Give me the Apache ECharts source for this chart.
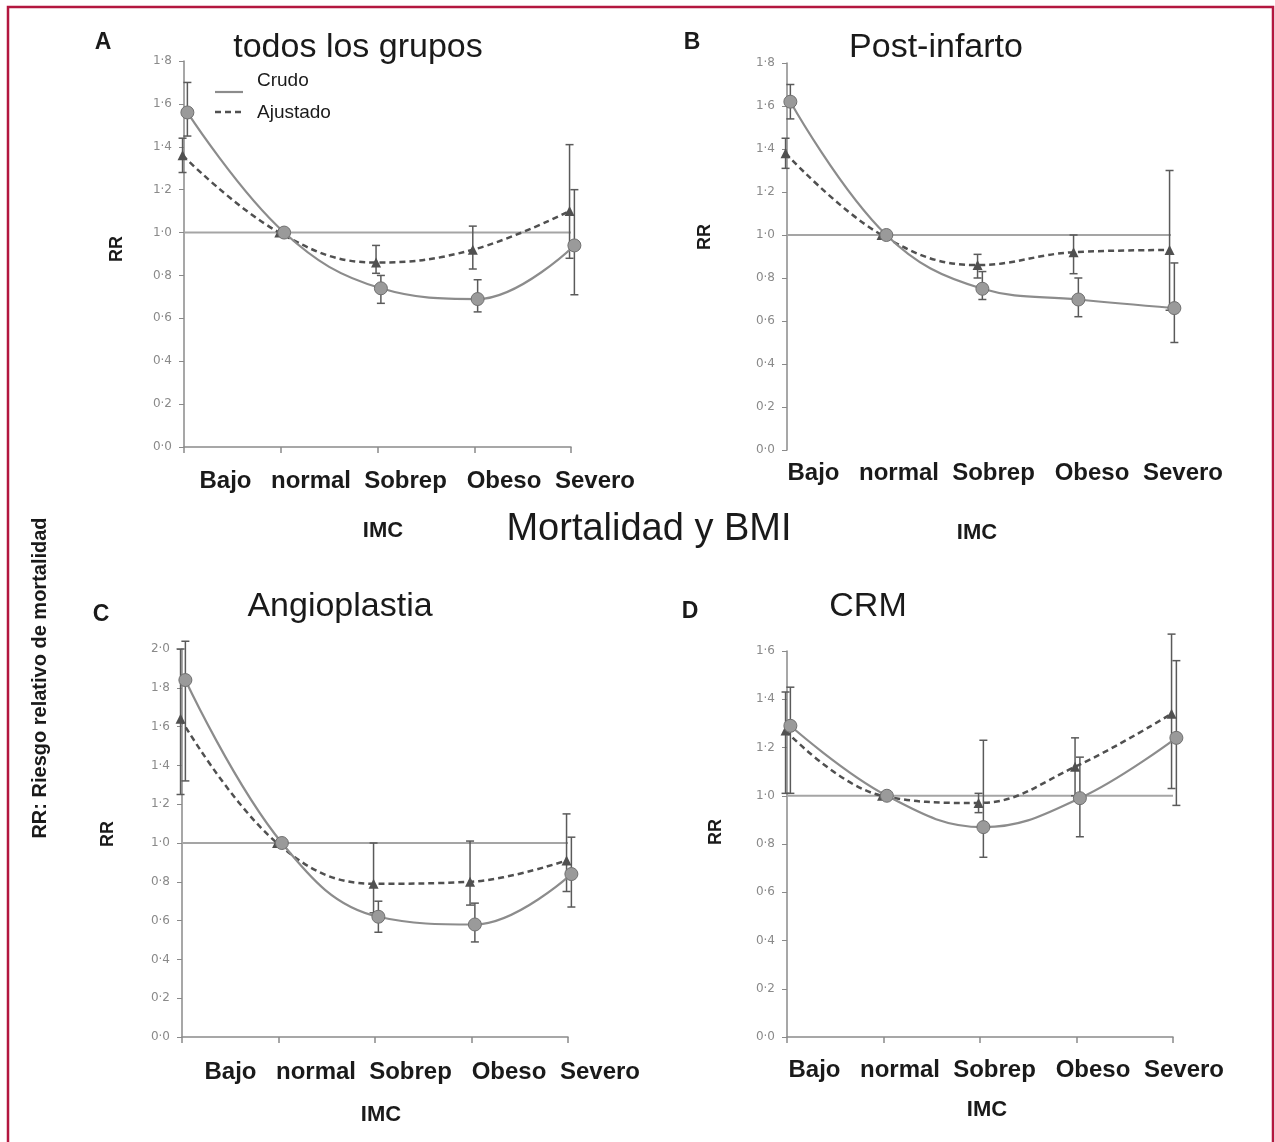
<!DOCTYPE html>
<html>
<head>
<meta charset="utf-8">
<script src="https://cdn.jsdelivr.net/npm/echarts@6/dist/echarts.min.js"></script>
<style>
html,body{margin:0;padding:0;background:#fff;}
#chart{width:1275px;height:1142px;}
</style>
</head>
<body>
<div id="chart"></div>
<script>
// ---------- DATA ----------
const categories = ['Bajo', 'normal', 'Sobrep', 'Obeso', 'Severo'];
const seriesNames = ['Crudo', 'Ajustado'];
const panelTitles = ['todos los grupos', 'Post-infarto', 'Angioplastia', 'CRM'];
const panelLetters = ['A', 'B', 'C', 'D'];
const mainTitle = 'Mortalidad y BMI';
const yAxisName = 'RR';
const xAxisName = 'IMC';
const sideLabel = 'RR: Riesgo relativo de mortalidad';
const yMax = [1.8, 1.8, 2.0, 1.6];

// Panel A: todos los grupos
const crudoA    = [1.56, 1.00, 0.74, 0.69, 0.94];
const crudoA_lo = [1.45, null, 0.67, 0.63, 0.71];
const crudoA_hi = [1.70, null, 0.80, 0.78, 1.20];
const ajustA    = [1.36, 1.00, 0.86, 0.92, 1.10];
const ajustA_lo = [1.28, null, 0.81, 0.83, 0.88];
const ajustA_hi = [1.44, null, 0.94, 1.03, 1.41];

// Panel B: Post-infarto
const crudoB    = [1.62, 1.00, 0.75, 0.70, 0.66];
const crudoB_lo = [1.54, null, 0.70, 0.62, 0.50];
const crudoB_hi = [1.70, null, 0.83, 0.80, 0.87];
const ajustB    = [1.38, 1.00, 0.86, 0.92, 0.93];
const ajustB_lo = [1.31, null, 0.80, 0.82, 0.65];
const ajustB_hi = [1.45, null, 0.91, 1.00, 1.30];

// Panel C: Angioplastia
const crudoC    = [1.84, 1.00, 0.62, 0.58, 0.84];
const crudoC_lo = [1.32, null, 0.54, 0.49, 0.67];
const crudoC_hi = [2.04, null, 0.70, 0.69, 1.03];
const ajustC    = [1.64, 1.00, 0.79, 0.80, 0.91];
const ajustC_lo = [1.25, null, 0.64, 0.68, 0.75];
const ajustC_hi = [2.00, null, 1.00, 1.01, 1.15];

// Panel D: CRM
const crudoD    = [1.29, 1.00, 0.87, 0.99, 1.24];
const crudoD_lo = [1.01, null, 0.745, 0.83, 0.96];
const crudoD_hi = [1.45, null, 1.23, 1.16, 1.56];
const ajustD    = [1.27, 1.00, 0.97, 1.12, 1.34];
const ajustD_lo = [1.01, null, 0.93, 1.00, 1.03];
const ajustD_hi = [1.43, null, 1.01, 1.24, 1.67];

const refValue = 1.0;

// ---------- LAYOUT / STYLE ----------
const grids = [
  {left: 184, top: 61,  width: 387, height: 386, showX: true},
  {left: 787, top: 63,  width: 384, height: 387, showX: false},
  {left: 182, top: 649, width: 386, height: 388, showX: true},
  {left: 787, top: 651, width: 386, height: 386, showX: true}
];
const OFF_CRUDO = 0.035, OFF_AJUST = -0.015;
const panels = [
  {c: crudoA, cl: crudoA_lo, ch: crudoA_hi, a: ajustA, al: ajustA_lo, ah: ajustA_hi},
  {c: crudoB, cl: crudoB_lo, ch: crudoB_hi, a: ajustB, al: ajustB_lo, ah: ajustB_hi},
  {c: crudoC, cl: crudoC_lo, ch: crudoC_hi, a: ajustC, al: ajustC_lo, ah: ajustC_hi},
  {c: crudoD, cl: crudoD_lo, ch: crudoD_hi, a: ajustD, al: ajustD_lo, ah: ajustD_hi}
];
// text positions
const titlePos = [[358, 48], [936, 48], [340, 607], [868, 607]];
const letterPos = [[103, 43], [692, 43], [101, 615], [690, 612]];
const rrPos = [[117, 249], [705, 237], [108, 834], [716, 832]];
const imcPos = [[383, 531], [977, 533], [381, 1115], [987, 1110]];
const catStart = [[200, 481], [788, 473], [205, 1072], [789, 1070]];
const catOffsets = [25.5, 111, 205.5, 304, 395];

const FONT = '"Liberation Sans", Arial, Helvetica, sans-serif';
const AXIS_COLOR = '#8a8a8a';

const option = {
  backgroundColor: '#fff',
  animation: false,
  grid: grids.map(g => ({left: g.left, top: g.top, width: g.width, height: g.height, containLabel: false})),
  xAxis: grids.map((g, i) => ({
    gridIndex: i, type: 'value', min: 0, max: 4, interval: 1,
    axisLine: {show: g.showX, lineStyle: {color: AXIS_COLOR, width: 1.5}},
    axisTick: {show: g.showX, length: 6, lineStyle: {color: AXIS_COLOR, width: 1.5}},
    axisLabel: {show: false}, splitLine: {show: false}
  })),
  yAxis: grids.map((g, i) => ({
    gridIndex: i, type: 'value', min: 0, max: yMax[i], interval: 0.2,
    axisLine: {show: true, lineStyle: {color: AXIS_COLOR, width: 1.5}},
    axisTick: {show: true, length: 5, lineStyle: {color: AXIS_COLOR, width: 1}},
    axisLabel: {color: '#8a8a8a', fontSize: 12, fontFamily: '"DejaVu Sans", sans-serif', margin: 12,
      formatter: v => v.toFixed(1).replace('.', '·')},
    splitLine: {show: false}
  })),
  series: [],
  graphic: []
};

function errorSeries(idx, vals, lo, hi, off) {
  const data = [];
  vals.forEach((v, i) => {
    if (lo[i] != null && hi[i] != null) data.push([i + off, lo[i], hi[i]]);
  });
  return {
    type: 'custom', xAxisIndex: idx, yAxisIndex: idx, clip: false, z: 3,
    data: data,
    renderItem: function (params, api) {
      const x = api.value(0);
      const pLo = api.coord([x, api.value(1)]);
      const pHi = api.coord([x, api.value(2)]);
      const cw = 4;
      const st = {stroke: '#5a5a5a', lineWidth: 1.5};
      return {type: 'group', children: [
        {type: 'line', shape: {x1: pLo[0], y1: pLo[1], x2: pHi[0], y2: pHi[1]}, style: st},
        {type: 'line', shape: {x1: pLo[0] - cw, y1: pLo[1], x2: pLo[0] + cw, y2: pLo[1]}, style: st},
        {type: 'line', shape: {x1: pHi[0] - cw, y1: pHi[1], x2: pHi[0] + cw, y2: pHi[1]}, style: st}
      ]};
    }
  };
}

panels.forEach((p, idx) => {
  // reference line at 1.0
  option.series.push({
    type: 'line', xAxisIndex: idx, yAxisIndex: idx, silent: true, z: 2,
    data: [[0, refValue], [4, refValue]], symbol: 'none',
    lineStyle: {color: '#a5a5a5', width: 2}
  });
  option.series.push(errorSeries(idx, p.a, p.al, p.ah, OFF_AJUST));
  option.series.push(errorSeries(idx, p.c, p.cl, p.ch, OFF_CRUDO));
  option.series.push({
    name: seriesNames[1], type: 'line', xAxisIndex: idx, yAxisIndex: idx, clip: false, z: 4,
    data: p.a.map((v, i) => [i + OFF_AJUST, v]), smooth: 0.4,
    symbol: 'triangle', symbolSize: 10,
    itemStyle: {color: '#505050'},
    lineStyle: {color: '#505050', width: 2.5, type: [6, 4]}
  });
  option.series.push({
    name: seriesNames[0], type: 'line', xAxisIndex: idx, yAxisIndex: idx, clip: false, z: 5,
    data: p.c.map((v, i) => [i + OFF_CRUDO, v]), smooth: 0.4,
    symbol: 'circle', symbolSize: 13,
    itemStyle: {color: '#9a9a9a', borderColor: '#707070', borderWidth: 1},
    lineStyle: {color: '#8c8c8c', width: 2.2}
  });
});

const G = option.graphic;
// border
G.push({type: 'rect', shape: {x: 8, y: 7, width: 1265, height: 1150},
  style: {fill: 'none', stroke: '#b3173f', lineWidth: 2.5}});
function txt(t, x, y, font, color, rot) {
  G.push({type: 'text', x: x, y: y, rotation: rot || 0,
    style: {text: t, x: 0, y: 0, textAlign: 'center', textVerticalAlign: 'middle', font: font, fill: color || '#1a1a1a'}});
}
for (let i = 0; i < 4; i++) {
  txt(panelTitles[i], titlePos[i][0], titlePos[i][1], '34px ' + FONT);
  txt(panelLetters[i], letterPos[i][0], letterPos[i][1], 'bold 23px ' + FONT);
  txt(yAxisName, rrPos[i][0], rrPos[i][1], 'bold 18px ' + FONT, '#1a1a1a', Math.PI / 2);
  txt(xAxisName, imcPos[i][0], imcPos[i][1], 'bold 22px ' + FONT);
  categories.forEach((c, k) => {
    txt(c, catStart[i][0] + catOffsets[k], catStart[i][1], 'bold 24px ' + FONT);
  });
}
txt(mainTitle, 649, 530, '38px ' + FONT);
txt(sideLabel, 40, 678, 'bold 20px ' + FONT, '#1a1a1a', Math.PI / 2);

// legend (panel A)
G.push({type: 'line', shape: {x1: 215, y1: 92, x2: 243, y2: 92}, style: {stroke: '#8c8c8c', lineWidth: 2.2}});
G.push({type: 'line', shape: {x1: 215, y1: 112, x2: 243, y2: 112}, style: {stroke: '#505050', lineWidth: 2.5, lineDash: [6, 4]}});
G.push({type: 'text', x: 257, y: 81, style: {text: seriesNames[0], textAlign: 'left', textVerticalAlign: 'middle', font: '19px ' + FONT, fill: '#1a1a1a'}});
G.push({type: 'text', x: 257, y: 113, style: {text: seriesNames[1], textAlign: 'left', textVerticalAlign: 'middle', font: '19px ' + FONT, fill: '#1a1a1a'}});

const chart = echarts.init(document.getElementById('chart'), null, {renderer: 'canvas'});
chart.setOption(option);
</script>
</body>
</html>
